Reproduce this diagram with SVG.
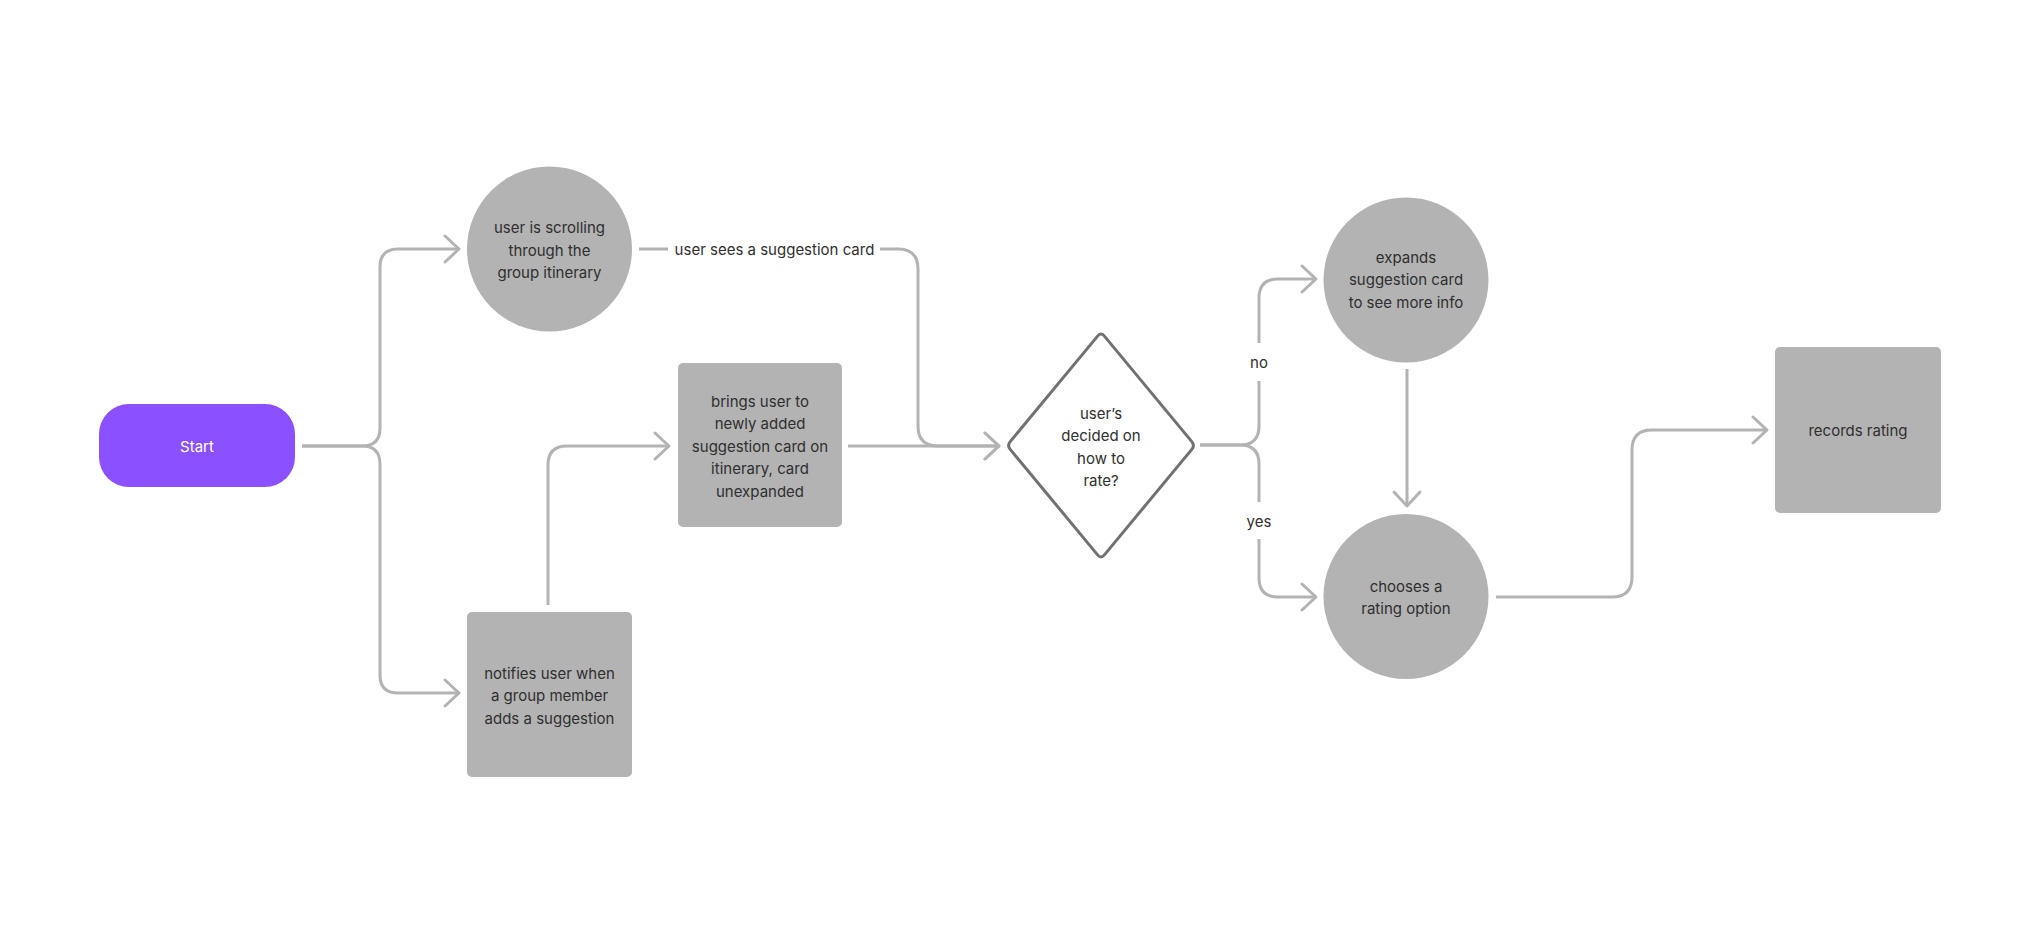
<svg xmlns="http://www.w3.org/2000/svg" width="2036" height="944" viewBox="0 0 2036 944">
<style>
  .bg { fill: #ffffff; }
  .node { fill: #b3b3b3; }
  .start { fill: #8b50ff; }
  .dec { fill: #ffffff; stroke: #717171; stroke-width: 3; stroke-linejoin: round; }
  .t { font-family: Inter, "Noto Sans", "Liberation Sans", sans-serif; font-size: 15px; fill: #2f2f2f; text-anchor: middle; }
  .tw { font-family: Inter, "Noto Sans", "Liberation Sans", sans-serif; font-size: 15px; fill: #ffffff; text-anchor: middle; }
  .c { fill: none; stroke: #b3b3b3; stroke-width: 3; stroke-linecap: butt; stroke-linejoin: round; }
  .a { marker-end: url(#ah); }
</style>
<defs>
  <marker id="ah" viewBox="-20 -16 24 32" refX="0" refY="0" markerWidth="24" markerHeight="32" markerUnits="userSpaceOnUse" orient="auto">
    <path d="M-14,-13 L0,0 L-14,13" fill="none" stroke="#b3b3b3" stroke-width="3" stroke-linecap="round" stroke-linejoin="round"/>
  </marker>
</defs>
<rect class="bg" x="0" y="0" width="2036" height="944"/>

<g id="connectors">
  <path class="c a" d="M302,446 H362 Q380,446 380,428 V267 Q380,249 398,249 H459"/>
  <path class="c a" d="M302,446 H362 Q380,446 380,464 V675 Q380,693 398,693 H459"/>
  <path class="c" d="M639,249 H668"/>
  <text class="t" x="774.5" y="254.5">user sees a suggestion card</text>
  <path class="c a" d="M880,249 H898 Q918,249 918,269 V426 Q918,446 938,446 H999"/>
  <path class="c a" d="M848,446 H999"/>
  <path class="c a" d="M548,605 V465 Q548,446 567,446 H669"/>
  <path class="c" d="M1200,445 H1240 Q1259,445 1259,426 V381"/>
  <path class="c a" d="M1259,343 V298 Q1259,279 1278,279 H1316"/>
  <text class="t" x="1259" y="367.5">no</text>
  <path class="c" d="M1200,445 H1240 Q1259,445 1259,464 V502"/>
  <path class="c a" d="M1259,539 V578 Q1259,597 1278,597 H1316"/>
  <text class="t" x="1259" y="526.5">yes</text>
  <path class="c a" d="M1407,369 V506"/>
  <path class="c a" d="M1496,597 H1612 Q1632,597 1632,577 V450 Q1632,430 1652,430 H1767"/>
</g>

<g id="start">
  <rect class="start" x="99" y="404" width="196" height="83" rx="30"/>
  <text class="tw" x="197" y="451.5">Start</text>
</g>

<g id="scrolling">
  <circle class="node" cx="549.5" cy="249" r="82.5"/>
  <text class="t" x="549.5" y="233">user is scrolling</text>
  <text class="t" x="549.5" y="255.5">through the</text>
  <text class="t" x="549.5" y="278">group itinerary</text>
</g>

<g id="brings">
  <rect class="node" x="678" y="363" width="164" height="164" rx="5"/>
  <text class="t" x="760" y="406.5">brings user to</text>
  <text class="t" x="760" y="429">newly added</text>
  <text class="t" x="760" y="451.5">suggestion card on</text>
  <text class="t" x="760" y="474">itinerary, card</text>
  <text class="t" x="760" y="496.5">unexpanded</text>
</g>

<g id="notifies">
  <rect class="node" x="467" y="612" width="165" height="165" rx="5"/>
  <text class="t" x="549.5" y="678.5">notifies user when</text>
  <text class="t" x="549.5" y="701">a group member</text>
  <text class="t" x="549.5" y="723.5">adds a suggestion</text>
</g>

<g id="decision">
  <path class="dec" d="M1104.2,335.9 L1191.8,441.6 Q1195,445.5 1191.8,449.4 L1104.2,555.1 Q1101,559 1097.8,555.1 L1010.2,449.4 Q1007,445.5 1010.2,441.6 L1097.8,335.9 Q1101,332 1104.2,335.9 Z"/>
  <text class="t" x="1101" y="418.5">user’s</text>
  <text class="t" x="1101" y="441">decided on</text>
  <text class="t" x="1101" y="463.5">how to</text>
  <text class="t" x="1101" y="486">rate?</text>
</g>

<g id="expands">
  <circle class="node" cx="1406" cy="280" r="82.5"/>
  <text class="t" x="1406" y="262.5">expands</text>
  <text class="t" x="1406" y="285">suggestion card</text>
  <text class="t" x="1406" y="307.5">to see more info</text>
</g>

<g id="chooses">
  <circle class="node" cx="1406" cy="596.5" r="82.5"/>
  <text class="t" x="1406" y="591.5">chooses a</text>
  <text class="t" x="1406" y="614">rating option</text>
</g>

<g id="records">
  <rect class="node" x="1775" y="347" width="166" height="166" rx="5"/>
  <text class="t" x="1858" y="436">records rating</text>
</g>
</svg>
